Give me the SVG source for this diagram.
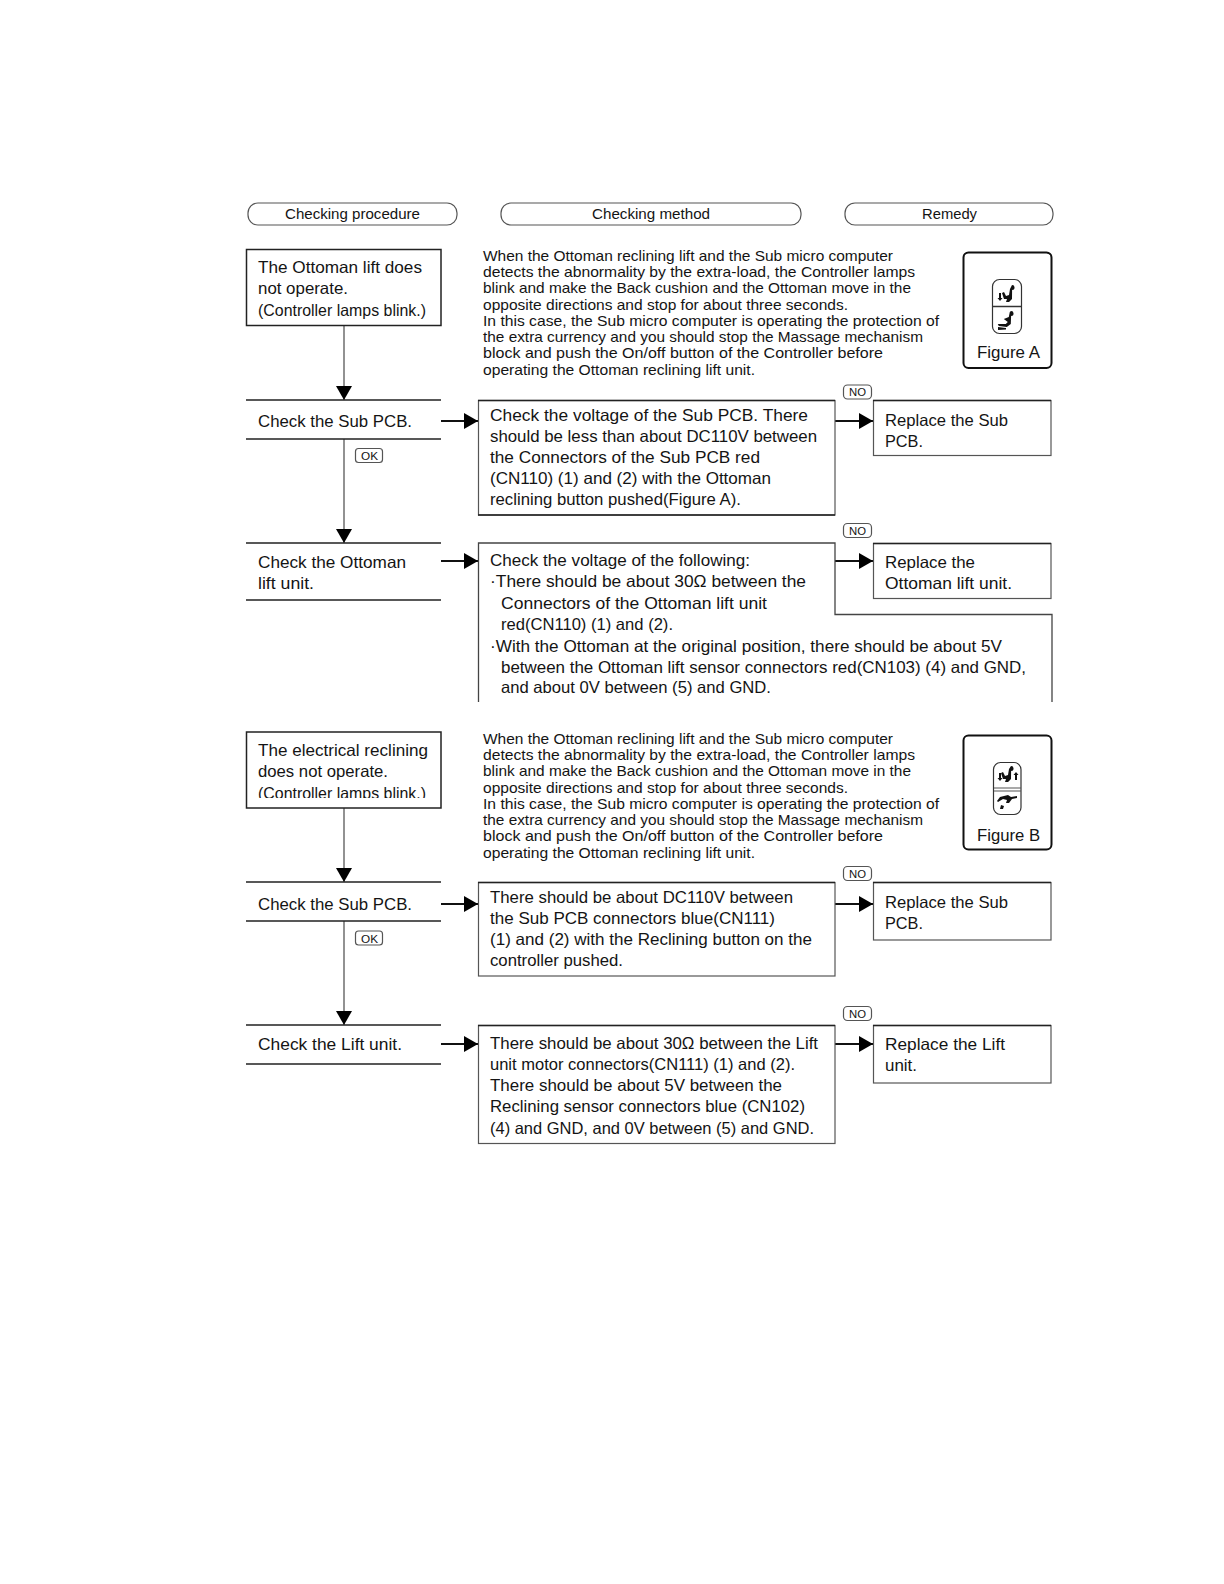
<svg xmlns="http://www.w3.org/2000/svg" width="1224" height="1584" viewBox="0 0 1224 1584">
<style>
text{font-family:"Liberation Sans",Arial,sans-serif;fill:#141414}
.m{font-size:16.5px}
.p{font-size:14.5px}
.h{font-size:14.5px}
.l{font-size:11px}
.b{fill:#fff;stroke:#222;stroke-width:1.5}
.t{fill:#fff;stroke:#555;stroke-width:1.2}
.e{fill:none;stroke:#222;stroke-width:1.5}
.c{fill:none;stroke:#111;stroke-width:2}
.v{fill:none;stroke:#777;stroke-width:1.6}
.ic{fill:#111;stroke:none}
</style>
<defs>
<marker id="ar" markerUnits="userSpaceOnUse" markerWidth="15" markerHeight="16" refX="14" refY="8" orient="auto"><path d="M0 0L14 8L0 16Z" fill="#000"/></marker>
<clipPath id="clipRec"><rect x="250" y="735" width="188" height="63"/></clipPath>
</defs>
<rect width="1224" height="1584" fill="#fff"/>

<g id="connectors">
<path class="v" d="M344 325V400" marker-end="url(#ar)"/>
<path class="v" d="M344 439V543" marker-end="url(#ar)"/>
<path class="c" d="M441 421H478" marker-end="url(#ar)"/>
<path class="c" d="M835 421H873" marker-end="url(#ar)"/>
<path class="c" d="M441 561H478" marker-end="url(#ar)"/>
<path class="c" d="M835 561H873" marker-end="url(#ar)"/>
<path class="v" d="M344 808V882" marker-end="url(#ar)"/>
<path class="v" d="M344 921V1025" marker-end="url(#ar)"/>
<path class="c" d="M441 904H478" marker-end="url(#ar)"/>
<path class="c" d="M835 904H873" marker-end="url(#ar)"/>
<path class="c" d="M441 1044H478" marker-end="url(#ar)"/>
<path class="c" d="M835 1044H873" marker-end="url(#ar)"/>
</g>

<g id="hdr-procedure"><rect class="t" x="248" y="203" width="209" height="22" rx="10"/><text class="h" x="285" y="219" textLength="135" lengthAdjust="spacingAndGlyphs">Checking procedure</text></g>
<g id="hdr-method"><rect class="t" x="501" y="203" width="300" height="22" rx="10"/><text class="h" x="592" y="219" textLength="118" lengthAdjust="spacingAndGlyphs">Checking method</text></g>
<g id="hdr-remedy"><rect class="t" x="845" y="203" width="208" height="22" rx="10"/><text class="h" x="922" y="219" textLength="55" lengthAdjust="spacingAndGlyphs">Remedy</text></g>

<g id="n1">
<rect class="b" x="246.500" y="249.500" width="194.500" height="76"/>
<text class="m" x="258" y="273" textLength="164" lengthAdjust="spacingAndGlyphs">The Ottoman lift does</text>
<text class="m" x="258" y="294" textLength="90" lengthAdjust="spacingAndGlyphs">not operate.</text>
<text class="m" x="258" y="316" textLength="168" lengthAdjust="spacingAndGlyphs">(Controller lamps blink.)</text>
</g>

<g id="note1">
<text class="p" x="483" y="261" textLength="410" lengthAdjust="spacingAndGlyphs">When the Ottoman reclining lift and the Sub micro computer</text>
<text class="p" x="483" y="277" textLength="432" lengthAdjust="spacingAndGlyphs">detects the abnormality by the extra-load, the Controller lamps</text>
<text class="p" x="483" y="293" textLength="428" lengthAdjust="spacingAndGlyphs">blink and make the Back cushion and the Ottoman move in the</text>
<text class="p" x="483" y="310" textLength="365" lengthAdjust="spacingAndGlyphs">opposite directions and stop for about three seconds.</text>
<text class="p" x="483" y="326" textLength="456" lengthAdjust="spacingAndGlyphs">In this case, the Sub micro computer is operating the protection of</text>
<text class="p" x="483" y="342" textLength="440" lengthAdjust="spacingAndGlyphs">the extra currency and you should stop the Massage mechanism</text>
<text class="p" x="483" y="358" textLength="400" lengthAdjust="spacingAndGlyphs">block and push the On/off button of the Controller  before</text>
<text class="p" x="483" y="375" textLength="272" lengthAdjust="spacingAndGlyphs">operating the Ottoman reclining lift unit.</text>
</g>

<g id="figA">
<rect x="963.500" y="252.500" width="88" height="115.500" rx="5" fill="#fff" stroke="#111" stroke-width="2"/>
<rect x="992.500" y="279.500" width="29" height="54" rx="7" fill="#fff" stroke="#333" stroke-width="1.2"/>
<path d="M993 306.500H1021" stroke="#333" stroke-width="1.500"/>
<path class="ic" d="M1012 285a2.500 2.500 0 1 1 .1 5l-.1 9-3 3h-3l1 -3h-3l-2-6 2-1 2 4 3-1 1-6Z"/>
<path class="ic" d="M999 293h2v5h1.500l-2.500 3-2.500-3h1.500Z"/>
<path class="ic" d="M1011 311a2.500 2.500 0 1 1 .1 5l-.3 8-4 3-8-1-1-2 8 0 2-2-4-3 5-2 1-5Z"/>
<path class="ic" d="M998 327l8 1v1.500l-8 .5Z"/>
<text class="m" x="977" y="358" textLength="63" lengthAdjust="spacingAndGlyphs">Figure A</text>
</g>

<g id="no1"><rect class="t" x="843.500" y="385" width="28" height="14" rx="4"/><text class="l" x="849" y="396" textLength="17" lengthAdjust="spacingAndGlyphs">NO</text></g>
<g id="ok1"><rect class="t" x="355.500" y="448.500" width="27" height="14" rx="3"/><text class="l" x="361" y="460" textLength="17" lengthAdjust="spacingAndGlyphs">OK</text></g>

<g id="n2">
<path class="e" d="M246 400H441M246 439H441"/>
<text class="m" x="258" y="427" textLength="154" lengthAdjust="spacingAndGlyphs">Check the Sub PCB.</text>
</g>

<g id="m2">
<rect class="t" x="478.500" y="400.500" width="356.500" height="114.500"/>
<path class="e" d="M478 400.500H835M478 515H835"/>
<text class="m" x="490" y="421" textLength="318" lengthAdjust="spacingAndGlyphs">Check the voltage of the Sub PCB.  There</text>
<text class="m" x="490" y="442" textLength="327" lengthAdjust="spacingAndGlyphs">should be less than about DC110V between</text>
<text class="m" x="490" y="463" textLength="270" lengthAdjust="spacingAndGlyphs">the Connectors of the Sub PCB red</text>
<text class="m" x="490" y="484" textLength="281" lengthAdjust="spacingAndGlyphs">(CN110) (1) and (2) with the Ottoman</text>
<text class="m" x="490" y="505" textLength="251" lengthAdjust="spacingAndGlyphs">reclining button pushed(Figure A).</text>
</g>

<g id="r2">
<rect class="t" x="873.500" y="400.500" width="177.500" height="55"/>
<path class="e" d="M873 400.500H1051"/>
<text class="m" x="885" y="426" textLength="123" lengthAdjust="spacingAndGlyphs">Replace the Sub</text>
<text class="m" x="885" y="447" textLength="38" lengthAdjust="spacingAndGlyphs">PCB.</text>
</g>

<g id="no2"><rect class="t" x="843.500" y="523.500" width="28" height="14" rx="4"/><text class="l" x="849" y="534.500" textLength="17" lengthAdjust="spacingAndGlyphs">NO</text></g>

<g id="n3">
<path class="e" d="M246 543H441M246 600H441"/>
<text class="m" x="258" y="568" textLength="148" lengthAdjust="spacingAndGlyphs">Check the Ottoman</text>
<text class="m" x="258" y="589" textLength="56" lengthAdjust="spacingAndGlyphs">lift unit.</text>
</g>

<g id="m3">
<path fill="none" stroke="#444" stroke-width="1.300" d="M478.500 702V543H835V614.500H1052V702"/>
<text class="m" x="490" y="566" textLength="260" lengthAdjust="spacingAndGlyphs">Check the voltage of the following:</text>
<text class="m" x="490" y="587" textLength="316" lengthAdjust="spacingAndGlyphs">·There should be about 30Ω between the</text>
<text class="m" x="501" y="609" textLength="266" lengthAdjust="spacingAndGlyphs">Connectors of the Ottoman lift unit</text>
<text class="m" x="501" y="630" textLength="172" lengthAdjust="spacingAndGlyphs">red(CN110) (1) and (2).</text>
<text class="m" x="490" y="652" textLength="512" lengthAdjust="spacingAndGlyphs">·With the Ottoman at the original position, there should be about 5V</text>
<text class="m" x="501" y="673" textLength="525" lengthAdjust="spacingAndGlyphs">between the Ottoman lift sensor connectors red(CN103) (4) and GND,</text>
<text class="m" x="501" y="693" textLength="270" lengthAdjust="spacingAndGlyphs">and about 0V between (5) and GND.</text>
</g>

<g id="r3">
<rect class="t" x="873.500" y="543.500" width="177.500" height="55"/>
<path class="e" d="M873 543.500H1051"/>
<text class="m" x="885" y="568" textLength="90" lengthAdjust="spacingAndGlyphs">Replace the</text>
<text class="m" x="885" y="589" textLength="127" lengthAdjust="spacingAndGlyphs">Ottoman lift unit.</text>
</g>

<g id="n4">
<rect class="b" x="246.500" y="732" width="194.500" height="76"/>
<text class="m" x="258" y="756" textLength="170" lengthAdjust="spacingAndGlyphs">The electrical reclining</text>
<text class="m" x="258" y="777" textLength="130" lengthAdjust="spacingAndGlyphs">does not operate.</text>
<text class="m" x="258" y="799" textLength="168" lengthAdjust="spacingAndGlyphs" clip-path="url(#clipRec)">(Controller lamps blink.)</text>
</g>

<g id="note2">
<text class="p" x="483" y="744" textLength="410" lengthAdjust="spacingAndGlyphs">When the Ottoman reclining lift and the Sub micro computer</text>
<text class="p" x="483" y="760" textLength="432" lengthAdjust="spacingAndGlyphs">detects the abnormality by the extra-load, the Controller lamps</text>
<text class="p" x="483" y="776" textLength="428" lengthAdjust="spacingAndGlyphs">blink and make the Back cushion and the Ottoman move in the</text>
<text class="p" x="483" y="793" textLength="365" lengthAdjust="spacingAndGlyphs">opposite directions and stop for about three seconds.</text>
<text class="p" x="483" y="809" textLength="456" lengthAdjust="spacingAndGlyphs">In this case, the Sub micro computer is operating the protection of</text>
<text class="p" x="483" y="825" textLength="440" lengthAdjust="spacingAndGlyphs">the extra currency and you should stop the Massage mechanism</text>
<text class="p" x="483" y="841" textLength="400" lengthAdjust="spacingAndGlyphs">block and push the On/off button of the Controller  before</text>
<text class="p" x="483" y="858" textLength="272" lengthAdjust="spacingAndGlyphs">operating the Ottoman reclining lift unit.</text>
</g>

<g id="figB">
<rect x="963.500" y="735.500" width="88" height="114" rx="5" fill="#fff" stroke="#111" stroke-width="2"/>
<rect x="993.500" y="762.500" width="27.500" height="52" rx="7" fill="#fff" stroke="#333" stroke-width="1.2"/>
<path d="M994 788H1021M994 791H1021" stroke="#555" stroke-width="1.200"/>
<path class="ic" d="M1011 766a2.500 2.500 0 1 1 .1 5l-.1 8-3 3h-3l1-3h-3l-2-6 2-1 2 4 3-1 1-6Z"/>
<path class="ic" d="M999 773h2v5h1.500l-2.500 3-2.500-3h1.500Z"/>
<path class="ic" d="M1016 772l2.500 3h-1.500v5h-2v-5h-1.500Z"/>
<path class="ic" d="M1000 797l8-2 3 2 6-1v2l-5 1-3 4h-3l1-3-4-1-5 3-1-1Z"/>
<path class="ic" d="M1001 805l3 1-1 3-3 0Z"/>
<text class="m" x="977" y="841" textLength="63" lengthAdjust="spacingAndGlyphs">Figure B</text>
</g>

<g id="no3"><rect class="t" x="843.500" y="866.500" width="28" height="14" rx="4"/><text class="l" x="849" y="877.500" textLength="17" lengthAdjust="spacingAndGlyphs">NO</text></g>
<g id="ok2"><rect class="t" x="355.500" y="931" width="27" height="14" rx="3"/><text class="l" x="361" y="942.500" textLength="17" lengthAdjust="spacingAndGlyphs">OK</text></g>

<g id="n5">
<path class="e" d="M246 882H441M246 921H441"/>
<text class="m" x="258" y="910" textLength="154" lengthAdjust="spacingAndGlyphs">Check the Sub PCB.</text>
</g>

<g id="m5">
<rect class="t" x="478.500" y="882.500" width="356.500" height="93.500"/>
<path class="e" d="M478 882.500H835"/>
<text class="m" x="490" y="903" textLength="303" lengthAdjust="spacingAndGlyphs">There should be about DC110V between</text>
<text class="m" x="490" y="924" textLength="285" lengthAdjust="spacingAndGlyphs">the Sub PCB connectors blue(CN111)</text>
<text class="m" x="490" y="945" textLength="322" lengthAdjust="spacingAndGlyphs">(1) and (2) with the Reclining button on the</text>
<text class="m" x="490" y="966" textLength="133" lengthAdjust="spacingAndGlyphs">controller pushed.</text>
</g>

<g id="r5">
<rect class="t" x="873.500" y="882.500" width="177.500" height="57.500"/>
<path class="e" d="M873 882.500H1051"/>
<text class="m" x="885" y="908" textLength="123" lengthAdjust="spacingAndGlyphs">Replace the Sub</text>
<text class="m" x="885" y="929" textLength="38" lengthAdjust="spacingAndGlyphs">PCB.</text>
</g>

<g id="no4"><rect class="t" x="843.500" y="1006.500" width="28" height="14" rx="4"/><text class="l" x="849" y="1017.500" textLength="17" lengthAdjust="spacingAndGlyphs">NO</text></g>

<g id="n6">
<path class="e" d="M246 1025H441M246 1064H441"/>
<text class="m" x="258" y="1050" textLength="144" lengthAdjust="spacingAndGlyphs">Check the Lift unit.</text>
</g>

<g id="m6">
<rect class="t" x="478.500" y="1025.500" width="356.500" height="118"/>
<path class="e" d="M478 1025.500H835"/>
<text class="m" x="490" y="1049" textLength="328" lengthAdjust="spacingAndGlyphs">There should be about 30Ω between the Lift</text>
<text class="m" x="490" y="1070" textLength="305" lengthAdjust="spacingAndGlyphs">unit motor connectors(CN111) (1) and (2).</text>
<text class="m" x="490" y="1091" textLength="292" lengthAdjust="spacingAndGlyphs">There should be about 5V between the</text>
<text class="m" x="490" y="1112" textLength="315" lengthAdjust="spacingAndGlyphs">Reclining sensor connectors blue (CN102)</text>
<text class="m" x="490" y="1134" textLength="324" lengthAdjust="spacingAndGlyphs">(4) and GND, and 0V between (5) and GND.</text>
</g>

<g id="r6">
<rect class="t" x="873.500" y="1025.500" width="177.500" height="57.500"/>
<path class="e" d="M873 1025.500H1051"/>
<text class="m" x="885" y="1050" textLength="120" lengthAdjust="spacingAndGlyphs">Replace the Lift</text>
<text class="m" x="885" y="1071" textLength="32" lengthAdjust="spacingAndGlyphs">unit.</text>
</g>
</svg>
